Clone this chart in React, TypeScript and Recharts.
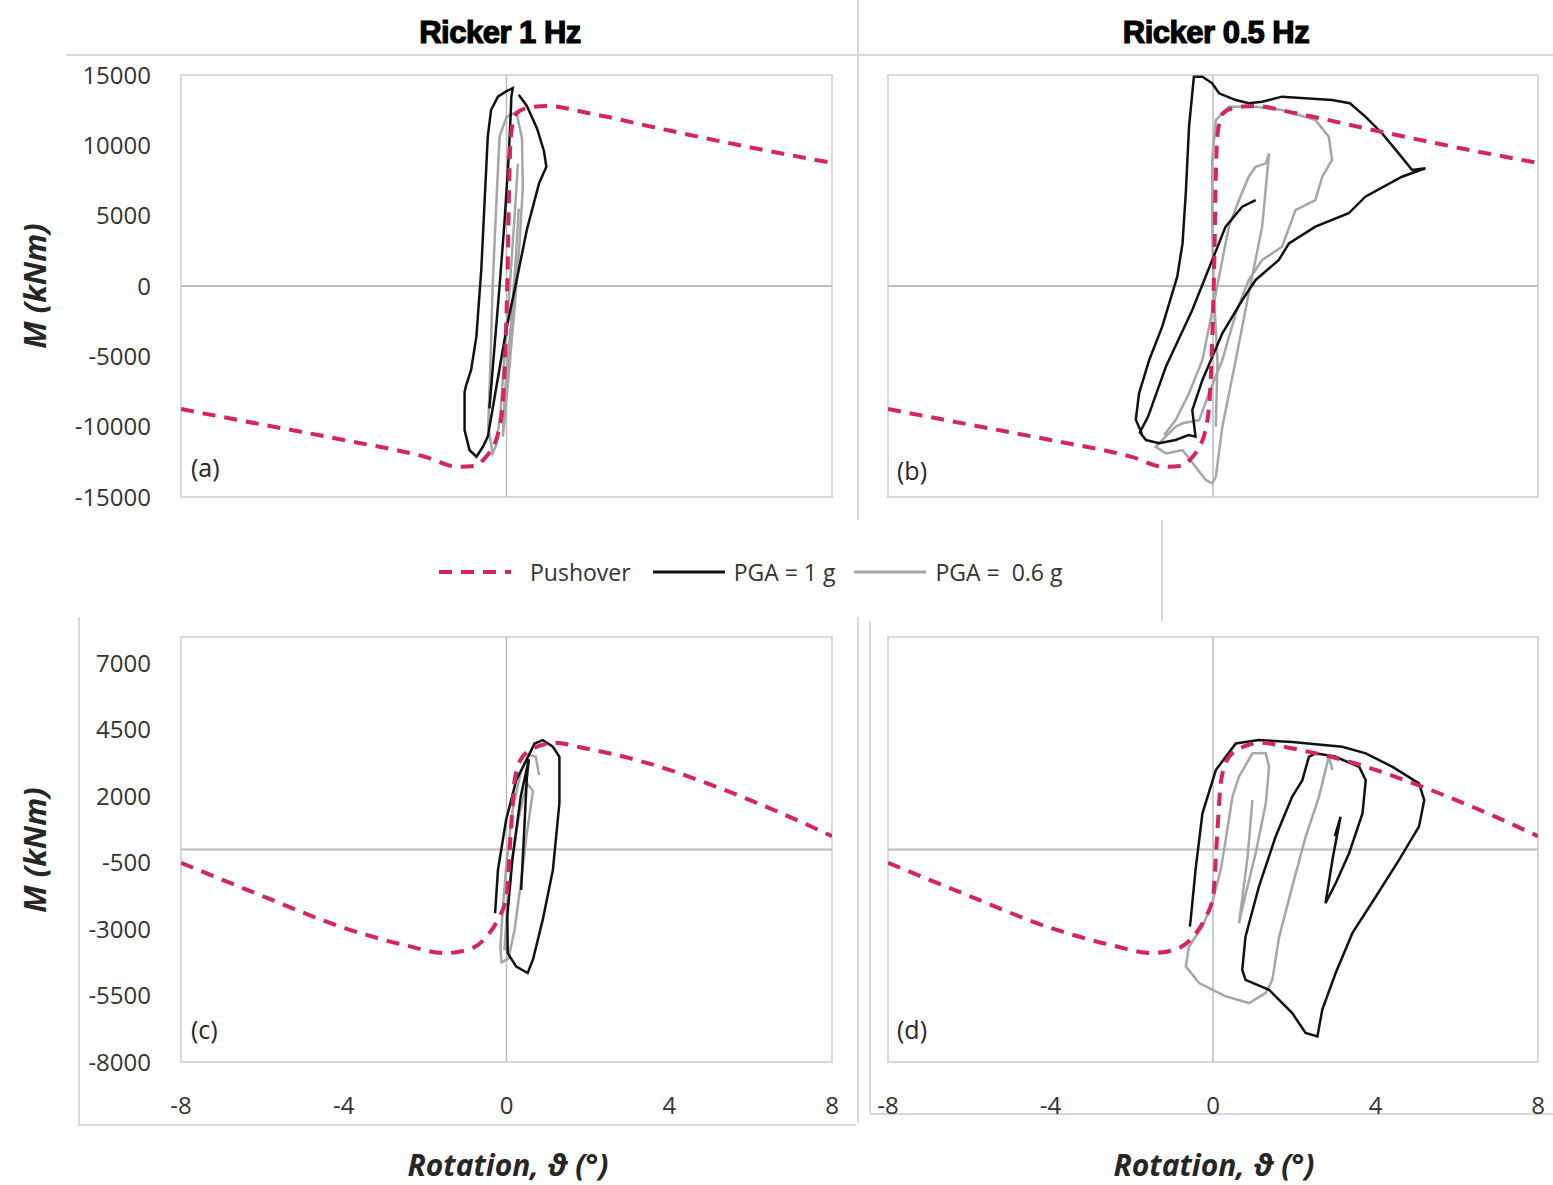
import React from "react";
import { LineChart, Line, XAxis, YAxis, ReferenceLine, ReferenceArea } from "recharts";

type Pt = [number, number];

// axis ticks
const rotTicks = [-8, -4, 0, 4, 8];
const mTicksTop = [-15000, -10000, -5000, 0, 5000, 10000, 15000];
const mTicksBottom = [-8000, -5500, -3000, -500, 2000, 4500, 7000];

// [rotation (deg), moment (kNm)]
const pushoverTop: Pt[] = [
  [-8, -8750], [-6, -9850], [-4, -10950], [-2, -12150], [-1.2, -12850], [-0.8, -12800],
  [-0.55, -12300], [-0.35, -11500], [-0.2, -10400], [-0.09, -8300], [0, -2000], [0.03, 1500],
  [0.07, 8000], [0.12, 11000], [0.24, 12250], [0.5, 12650], [1, 12800], [2, 12300],
  [4, 11050], [6, 9850], [8, 8750],
];

const pushoverBottom: Pt[] = [
  [-8, -500], [-6, -1750], [-4, -2950], [-2.5, -3600], [-1.5, -3900], [-0.9, -3750],
  [-0.5, -3300], [-0.2, -2600], [0, -1800], [0.1, 500], [0.2, 2600], [0.4, 3500],
  [0.8, 3900], [1.2, 4020], [1.8, 3850], [3, 3450], [4, 3000], [5, 2450], [6, 1850],
  [7, 1200], [8, 500],
];

// Ricker 1 Hz, PGA = 1 g
const pga1A: Pt[] = [
  [-0.42, -8700], [-0.3, -4500], [-0.17, 0], [-0.05, 4500], [0.05, 9000], [0.1, 12000],
  [0.12, 13500], [0.155, 14060], [0.0, 13850], [-0.21, 13460], [-0.38, 12510], [-0.46, 10620],
  [-0.54, 5900], [-0.62, 1140], [-0.74, -3600], [-0.87, -5970], [-0.99, -7040], [-1.03, -7520],
  [-1.03, -10240], [-0.91, -11660], [-0.74, -12140], [-0.58, -11430], [-0.46, -10710],
  [-0.25, -7200], [0.0, -3000], [0.22, 0], [0.5, 4000], [0.8, 7300], [0.98, 8480],
  [0.92, 9600], [0.75, 11200], [0.5, 12800], [0.3, 13600],
];

// Ricker 1 Hz, PGA = 0.6 g
const pga06A: Pt[] = [
  [0.28, 8700], [0.2, 5000], [0.08, 0], [-0.05, -5000], [-0.15, -9000], [-0.25, -11300],
  [-0.34, -11900], [-0.45, -10000], [-0.4, -6000], [-0.34, 0], [-0.25, 5880], [-0.17, 10620],
  [0.0, 12000], [0.24, 12400], [0.38, 10500], [0.4, 7000], [0.32, 3000], [0.2, -1500],
  [0.05, -6500], [-0.09, -10710], [-0.05, -8000], [0.1, -3000], [0.22, 1500], [0.3, 5500],
];

// Ricker 0.5 Hz, PGA = 1 g
const pga1B: Pt[] = [
  [1.05, 6110], [0.72, 5640], [0.31, 4220], [-0.51, -1710], [-1.16, -5740], [-1.6, -9300],
  [-1.8, -10400], [-1.65, -10950], [-1.33, -11180], [-0.92, -10950], [-0.6, -10600],
  [-0.43, -10710], [-0.51, -8820], [-0.26, -6680], [0.23, -3360], [0.72, -1000], [1.05, 430],
  [1.62, 1850], [1.87, 3030], [2.52, 4220], [3.34, 5170], [3.75, 6350], [4.65, 7770],
  [5.23, 8370], [4.9, 8250], [4.57, 9430], [4.16, 10860], [3.75, 12040], [3.37, 12990],
  [2.93, 13220], [1.7, 13460], [1.21, 13100], [0.88, 12990], [0.56, 13220], [0.15, 13700],
  [-0.02, 14410], [-0.26, 14880], [-0.47, 14880], [-0.59, 11330], [-0.67, 6590], [-0.75, 3030],
  [-0.88, 660], [-1.25, -2890], [-1.57, -5260], [-1.82, -7630], [-1.9, -9500], [-1.75, -10500],
];

// Ricker 0.5 Hz, PGA = 0.6 g
const pga06B: Pt[] = [
  [0.07, -10000], [0.11, -5260], [0.02, -520], [-0.02, 4220], [-0.02, 8960], [0.07, 11800],
  [0.39, 12750], [1.05, 12750], [1.7, 12510], [2.52, 11800], [2.85, 10620], [2.93, 8960],
  [2.69, 7770], [2.52, 6110], [2.03, 5400], [1.7, 2790], [1.21, 1850], [0.88, 430],
  [0.56, -1940], [0.23, -5260], [-0.1, -7630], [-0.34, -9530], [-0.75, -9760], [-0.92, -10000],
  [-1.25, -10950], [-1.41, -11430], [-1.16, -11900], [-0.75, -11660], [-0.43, -12850],
  [-0.18, -13790], [-0.02, -14030], [0.07, -13560], [0.23, -10000], [0.56, -5260], [0.88, -520],
  [1.21, 4220], [1.38, 9430], [1.3, 8720], [1.05, 8480], [0.88, 7770], [0.64, 6110],
  [0.39, 4220], [0.07, -520], [-0.26, -5260], [-0.59, -7630], [-0.92, -9530], [-1.2, -10600],
];

// Ricker 1 Hz, PGA = 1 g (lower row)
const pga1C: Pt[] = [
  [-0.28, -2400], [-0.21, -770], [-0.01, 1110], [0.24, 2610], [0.57, 3620], [0.69, 3990],
  [0.89, 4120], [1.14, 3870], [1.3, 3490], [1.3, 1740], [1.14, -770], [0.89, -2650],
  [0.65, -4150], [0.52, -4650], [0.24, -4410], [0.03, -3900], [0.02, -2500], [0.15, -300],
  [0.35, 2000], [0.55, 3400], [0.5, 2700], [0.44, 860], [0.36, -1520],
];

const pga06C: Pt[] = [
  [0.8, 2800], [0.72, 3500], [0.55, 3550], [0.35, 2900], [0.15, 1500], [0.0, -500],
  [-0.1, -2400], [-0.15, -3700], [-0.12, -4250], [0.05, -4100], [0.2, -3000], [0.35, -1300],
  [0.5, 600], [0.65, 2200], [0.5, 2500], [0.3, 1200], [0.12, -600], [0.0, -2600], [-0.05, -3800],
];

// Ricker 0.5 Hz, lower row
const pga1D: Pt[] = [
  [-0.57, -2900], [-0.55, -2650], [-0.43, -770], [-0.26, 1360], [0.07, 2990], [0.56, 3990],
  [1.13, 4120], [1.95, 4050], [3.18, 3870], [3.76, 3620], [4.42, 3110], [5.07, 2490],
  [5.2, 1860], [5.07, 860], [4.58, -390], [4.01, -1770], [3.43, -3150], [3.02, -4650],
  [2.69, -6030], [2.57, -7040], [2.28, -6910], [1.95, -6160], [1.38, -5280], [0.8, -4910],
  [0.72, -4530], [0.8, -3280], [1.13, -1400], [1.54, 480], [1.95, 1990], [2.2, 2610],
  [2.36, 3490], [2.52, 3620], [3.0, 3500], [3.6, 3110], [3.76, 2610], [3.68, 1360],
  [3.35, -140], [3.02, -1270], [2.77, -2020], [2.95, -300], [3.14, 1230], [3.0, 500],
];

const pga06D: Pt[] = [
  [0.97, 1860], [0.85, -300], [0.64, -2780], [0.8, -1700], [1.05, -140], [1.3, 1740],
  [1.38, 3110], [1.3, 3620], [0.97, 3620], [0.64, 2740], [0.48, 1990], [0.35, 730],
  [0.2, -700], [-0.02, -2020], [-0.26, -2900], [-0.59, -3650], [-0.67, -4400], [-0.34, -5030],
  [0.31, -5530], [0.89, -5780], [1.3, -5400], [1.46, -4910], [1.63, -3280], [1.95, -1400],
  [2.28, 480], [2.61, 1990], [2.77, 2990], [2.85, 3500], [2.94, 2990],
];

const FONT = "'Open Sans', 'DejaVu Sans', sans-serif";
const PINK = "#d6245e";
const BLACK = "#111111";
const GREY = "#a6a6a6";
const BORDER = "#d9d9d9";

const toRows = (pts: Pt[]) => pts.map(([rot, m]) => ({ rot, m }));

type PanelProps = {
  left: number;
  top: number;
  width: number;
  height: number;
  margin: { top: number; right: number; bottom: number; left: number };
  yDomain: [number, number];
  yTicks: number[];
  showY: boolean;
  showX: boolean;
  push: Pt[];
  black: Pt[];
  grey: Pt[];
};

function Panel(p: PanelProps) {
  const tickStyle = { fill: "#333", fontSize: 24, fontFamily: FONT };
  return (
    <div style={{ position: "absolute", left: p.left, top: p.top }}>
      <LineChart width={p.width} height={p.height} margin={p.margin}>
        <XAxis
          type="number"
          dataKey="rot"
          domain={[-8, 8]}
          ticks={rotTicks}
          interval={0}
          hide={!p.showX}
          height={60}
          axisLine={false}
          tickLine={false}
          tickSize={0}
          tickMargin={35}
          tick={tickStyle}
          allowDataOverflow
        />
        <YAxis
          type="number"
          domain={p.yDomain}
          ticks={p.yTicks}
          interval={0}
          hide={!p.showY}
          width={100}
          axisLine={false}
          tickLine={false}
          tickSize={0}
          tickMargin={30}
          tick={tickStyle}
          allowDataOverflow
        />
        <ReferenceArea x1={-8} x2={8} y1={p.yDomain[0]} y2={p.yDomain[1]} fill="none" stroke={BORDER} strokeWidth={2} />
        <ReferenceLine y={0} stroke="#bdbdbd" strokeWidth={2} />
        <ReferenceLine x={0} stroke="#bdbdbd" strokeWidth={1.5} />
        <Line data={toRows(p.grey)} dataKey="m" type="linear" stroke={GREY} strokeWidth={2.5} dot={false} isAnimationActive={false} />
        <Line data={toRows(p.black)} dataKey="m" type="linear" stroke={BLACK} strokeWidth={2.5} dot={false} isAnimationActive={false} />
        <Line data={toRows(p.push)} dataKey="m" type="monotone" stroke={PINK} strokeWidth={4} strokeDasharray="13 9" dot={false} isAnimationActive={false} />
      </LineChart>
    </div>
  );
}

const txt = (extra: React.CSSProperties): React.CSSProperties => ({
  position: "absolute",
  fontFamily: FONT,
  color: "#1a1a1a",
  whiteSpace: "pre",
  ...extra,
});

function Tag({ left, top, label }: { left: number; top: number; label: string }) {
  return <div style={txt({ left, top, fontSize: 25, lineHeight: "25px", color: "#262626" })}>{label}</div>;
}

function LegendSample({ color, dash, width }: { color: string; dash?: string; width: number }) {
  return (
    <svg width={72} height={10} style={{ display: "block" }}>
      <line x1={0} y1={5} x2={72} y2={5} stroke={color} strokeWidth={width} strokeDasharray={dash} />
    </svg>
  );
}

const titleStyle: React.CSSProperties = {
  width: 400,
  textAlign: "center",
  fontFamily: "'Liberation Sans', Arial, sans-serif",
  fontWeight: 700,
  fontSize: 31,
  lineHeight: "40px",
  letterSpacing: -0.5,
  color: "#000",
  WebkitTextStroke: "1.2px #000",
};

export default function App() {
  const topMargin = { top: 75, bottom: 23 };
  const botMargin = { top: 117, bottom: 18 };
  return (
    <div style={{ position: "absolute", left: 0, top: 0, width: 1553, height: 1185, background: "#fff", overflow: "hidden" }}>
      <svg width={1553} height={1185} style={{ position: "absolute", left: 0, top: 0 }}>
        <g stroke={BORDER} strokeWidth={2} fill="none">
          <path d="M66 55 H1553" />
          <path d="M858 0 V520" />
          <path d="M1162 520 V622" />
          <path d="M79 617 V1125 M77 1125 H856" />
          <path d="M858 617 V1122" />
          <path d="M870 622 V1114 M870 1114 H1553" />
        </g>
      </svg>

      <Panel left={0} top={0} width={860} height={520} margin={{ ...topMargin, left: 81, right: 28 }}
        yDomain={[-15000, 15000]} yTicks={mTicksTop} showY showX={false}
        push={pushoverTop} black={pga1A} grey={pga06A} />
      <Panel left={860} top={0} width={693} height={520} margin={{ ...topMargin, left: 28, right: 15 }}
        yDomain={[-15000, 15000]} yTicks={mTicksTop} showY={false} showX={false}
        push={pushoverTop} black={pga1B} grey={pga06B} />
      <Panel left={0} top={520} width={860} height={620} margin={{ ...botMargin, left: 81, right: 28 }}
        yDomain={[-8000, 8000]} yTicks={mTicksBottom} showY showX
        push={pushoverBottom} black={pga1C} grey={pga06C} />
      <Panel left={860} top={520} width={693} height={620} margin={{ ...botMargin, left: 28, right: 15 }}
        yDomain={[-8000, 8000]} yTicks={mTicksBottom} showY={false} showX
        push={pushoverBottom} black={pga1D} grey={pga06D} />

      <Tag left={191} top={455} label="(a)" />
      <Tag left={897} top={458} label="(b)" />
      <Tag left={191} top={1017} label="(c)" />
      <Tag left={897} top={1017} label="(d)" />

      <div style={txt({ ...titleStyle, left: 300, top: 13 })}>Ricker 1 Hz</div>
      <div style={txt({ ...titleStyle, left: 1016, top: 13 })}>Ricker 0.5 Hz</div>

      {[286, 850].map((cy) => (
        <div key={cy} style={txt({ left: -66, top: cy - 22, width: 200, height: 44, lineHeight: "44px", textAlign: "center", fontSize: 31, fontWeight: 700, fontStyle: "italic", transform: "rotate(-90deg)", color: "#262626" })}>
          M (kNm)
        </div>
      ))}
      {[508, 1214].map((cx) => (
        <div key={cx} style={txt({ left: cx - 200, top: 1146, width: 400, lineHeight: "38px", height: 38, textAlign: "center", fontSize: 30, fontWeight: 700, fontStyle: "italic", color: "#262626" })}>
          Rotation, ϑ (°)
        </div>
      ))}

      <div style={{ position: "absolute", left: 439, top: 556, height: 32, display: "flex", alignItems: "center", fontFamily: FONT, fontSize: 23, color: "#333", whiteSpace: "pre" }}>
        <LegendSample color={PINK} dash="13 9" width={4} />
        <span style={{ marginLeft: 19, marginRight: 22 }}>Pushover</span>
        <LegendSample color={BLACK} width={3} />
        <span style={{ marginLeft: 9, marginRight: 19 }}>PGA = 1 g</span>
        <LegendSample color={GREY} width={3} />
        <span style={{ marginLeft: 9 }}>PGA =  0.6 g</span>
      </div>
    </div>
  );
}
